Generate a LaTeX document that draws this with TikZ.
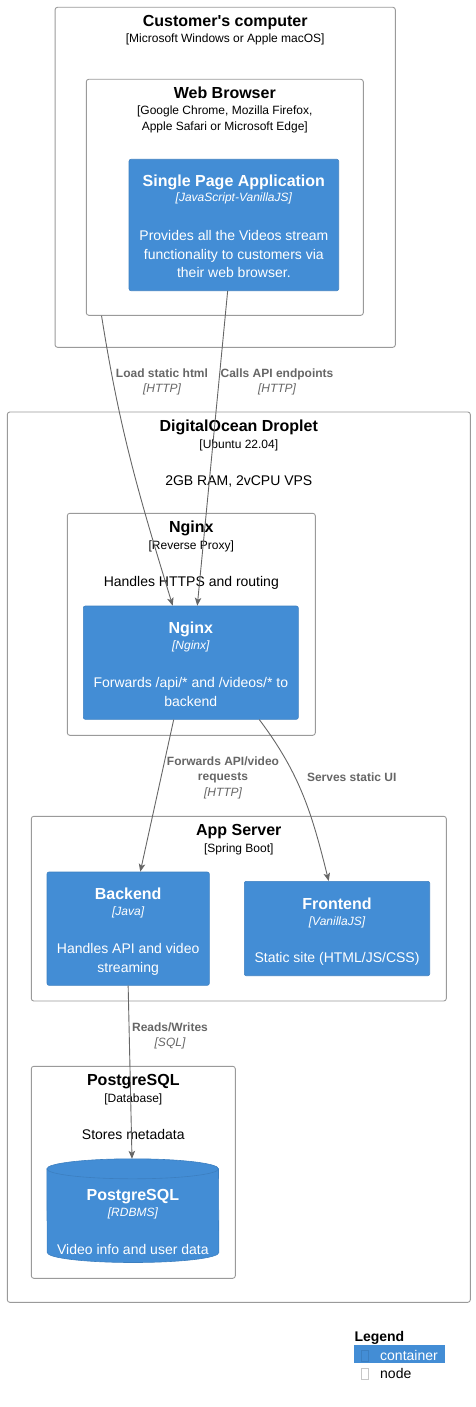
\documentclass[tikz,border=0pt]{standalone}
\usepackage{fontspec}
\setmainfont{Liberation Sans}
\usetikzlibrary{calc,arrows.meta}
\definecolor{cfill}{HTML}{438DD5}
\definecolor{cline}{HTML}{3C7FC0}
\definecolor{bline}{HTML}{9A9A9A}
\definecolor{relgray}{HTML}{666666}

\begin{document}
\begin{tikzpicture}[x=1pt,y=1pt]
   \tikzset{bound/.style 2 args={draw=bline, line width=0.9pt, rounded corners=2.5pt, minimum width=#1, minimum height=#2, inner sep=0},
            cont/.style 2 args={draw=cline, fill=cfill, line width=0.6pt, rounded corners=2pt, minimum width=#1, minimum height=#2, inner sep=0},
            txt/.style={anchor=base, inner sep=0},
            ttl/.style={txt, font=\bfseries\fontsize{16}{19}\selectfont},
            sub/.style={txt, font=\fontsize{12}{14}\selectfont},
            dsc/.style={txt, font=\fontsize{14}{17}\selectfont},
            tech/.style={txt, font=\itshape\fontsize{12}{14}\selectfont},
            lbl/.style={txt, text=relgray, font=\bfseries\fontsize{12}{14}\selectfont},
            lbltech/.style={txt, text=relgray, font=\itshape\fontsize{12}{14}\selectfont},
            relarrow/.style={draw=relgray, line width=0.9pt, -{Stealth[length=8pt,width=6.5pt,inset=2pt]}}};

\useasboundingbox (0,0) rectangle (475,-1407);

%Boundaries--------------------------
\node[bound={340.3pt}{340pt}] (cust) at (225.2,-177.3) {};
\node[bound={277pt}{236pt}] (browser) at (224.8,-197.3) {};
\node[bound={463pt}{890.3pt}] (droplet) at (238.8,-857.15) {};
\node[bound={248pt}{222pt}] (nginxb) at (191.3,-624.3) {};
\node[bound={415pt}{184.7pt}] (app) at (238.8,-908.65) {};
\node[bound={204pt}{212pt}] (pgb) at (133.3,-1172.3) {};

\node[ttl] (custT) at (225.2,-26.3) {Customer\textquotesingle s computer};
\node[sub] (custS) at (225.2,-42.7) {[Microsoft Windows or Apple macOS]};
\node[ttl] (browT) at (224.8,-98.3) {Web Browser};
\node[sub] (browS1) at (224.8,-115) {[Google Chrome, Mozilla Firefox,};
\node[sub] (browS2) at (224.8,-131) {Apple Safari or Microsoft Edge]};

\node[ttl] (dropT) at (238.8,-431.7) {DigitalOcean Droplet};
\node[sub] (dropS) at (238.8,-448.3) {[Ubuntu 22.04]};
\node[dsc] (dropD) at (238.8,-485.7) {2GB RAM, 2vCPU VPS};

\node[ttl] (ngbT) at (191.3,-532.3) {Nginx};
\node[sub] (ngbS) at (191.3,-549) {[Reverse Proxy]};
\node[dsc] (ngbD) at (191.3,-586.7) {Handles HTTPS and routing};

\node[ttl] (appT) at (238.8,-835.7) {App Server};
\node[sub] (appS) at (238.8,-852) {[Spring Boot]};

\node[ttl] (pgbT) at (133.3,-1085.3) {PostgreSQL};
\node[sub] (pgbS) at (133.3,-1102) {[Database]};
\node[dsc] (pgbD) at (133.3,-1139.3) {Stores metadata};

%Containers--------------------------
\node[cont={209.7pt}{131.4pt}] (spa) at (233.85,-225) {};
\node[ttl, text=white] (spaT) at (233.85,-186) {Single Page Application};
\node[tech, text=white] (spaTe) at (233.85,-201.7) {[JavaScript-VanillaJS]};
\node[dsc, text=white] (spaD1) at (233.85,-240.7) {Provides all the Videos stream};
\node[dsc, text=white] (spaD2) at (233.85,-259.3) {functionality to customers via};
\node[dsc, text=white] (spaD3) at (233.85,-277.3) {their web browser.};

\node[cont={215pt}{113.3pt}] (nginx) at (190.8,-662.65) {};
\node[ttl, text=white] (ngT) at (190.8,-633.3) {Nginx};
\node[tech, text=white] (ngTe) at (190.8,-649.3) {[Nginx]};
\node[dsc, text=white] (ngD1) at (190.8,-687.7) {Forwards /api/* and /videos/* to};
\node[dsc, text=white] (ngD2) at (190.8,-706.7) {backend};

\node[cont={162.3pt}{113.3pt}] (backend) at (128.15,-928.65) {};
\node[ttl, text=white] (beT) at (128.15,-899.3) {Backend};
\node[tech, text=white] (beTe) at (128.15,-915.7) {[Java]};
\node[dsc, text=white] (beD1) at (128.15,-953.7) {Handles API and video};
\node[dsc, text=white] (beD2) at (128.15,-972.3) {streaming};

\node[cont={185.4pt}{94.4pt}] (frontend) at (337,-928.5) {};
\node[ttl, text=white] (feT) at (337,-909) {Frontend};
\node[tech, text=white] (feTe) at (337,-925.3) {[VanillaJS]};
\node[dsc, text=white] (feD) at (337,-962.3) {Static site (HTML/JS/CSS)};

\node[minimum width=171.7pt, minimum height=103.3pt, inner sep=0] (db) at (132.85,-1210.65) {};
\path[fill=cfill, draw=cline, line width=0.6pt] ($(db.north west)+(0,-10)$) arc[start angle=180, end angle=0, x radius=85.85, y radius=10]
   -- ($(db.south east)+(0,10)$) arc[start angle=0, end angle=-180, x radius=85.85, y radius=10] -- cycle;
\draw[cline, line width=0.6pt] ($(db.north west)+(0,-10)$) arc[start angle=180, end angle=360, x radius=85.85, y radius=10];
\node[ttl, text=white] (dbT) at (132.85,-1200.3) {PostgreSQL};
\node[tech, text=white] (dbTe) at (132.85,-1216.7) {[RDBMS]};
\node[dsc, text=white] (dbD) at (132.85,-1254.3) {Video info and user data};

%Relations--------------------------
\node[lbl] (loadL) at (162,-377.3) {Load static html};
\node[lbltech] (loadP) at (162,-392.3) {[HTTP]};
\node[lbl] (callL) at (277,-377.3) {Calls API endpoints};
\node[lbltech] (callP) at (277,-392.3) {[HTTP]};
\node[lbl] (fwdL1) at (223,-765.3) {Forwards API/video};
\node[lbl] (fwdL2) at (223,-780.3) {requests};
\node[lbltech] (fwdP) at (223,-796) {[HTTP]};
\node[lbl] (srvL) at (351.7,-781.3) {Serves static UI};
\node[lbl] (rwL) at (170,-1031) {Reads/Writes};
\node[lbltech] (rwP) at (170,-1046.7) {[SQL]};

\draw[relarrow] ($(browser.south west)+(15.7,0)$) to[out=-81, in=107] ($(nginx.north)+(-18.1,0)$);
\draw[relarrow] ($(spa.south)+(-6.2,0)$) -- ($(nginx.north)+(6.5,0)$);
\draw[relarrow] ($(nginx.south)+(-17.1,0)$) -- ($(backend.north)+(12.15,0)$);
\draw[relarrow] ($(nginx.south)+(68.5,0)$) to[out=-53, in=104] ($(frontend.north)+(-8.3,0)$);
\draw[relarrow] (backend.south) -- ($(db.north)+(-0.85,0)$);

%Legend--------------------------
\node[txt, anchor=base west, font=\bfseries\fontsize{14}{17}\selectfont] (legT) at (354.3,-1341.7) {Legend};
\node[fill=cfill, minimum width=91pt, minimum height=18pt, inner sep=0] (legC) at (399.5,-1353.7) {};
\node[draw=cline, fill=cfill, line width=0.6pt, minimum width=6.6pt, minimum height=11pt, inner sep=0] (legCi) at (365,-1355.5) {};
\node[txt, anchor=base west, text=white, font=\fontsize{14}{17}\selectfont] (legCt) at (380,-1360) {container};
\node[draw=black!22, line width=0.6pt, minimum width=6.6pt, minimum height=11pt, inner sep=0] (legNi) at (365,-1373.5) {};
\node[txt, anchor=base west, font=\fontsize{14}{17}\selectfont] (legNt) at (380,-1378) {node};

\end{tikzpicture}
\end{document}
